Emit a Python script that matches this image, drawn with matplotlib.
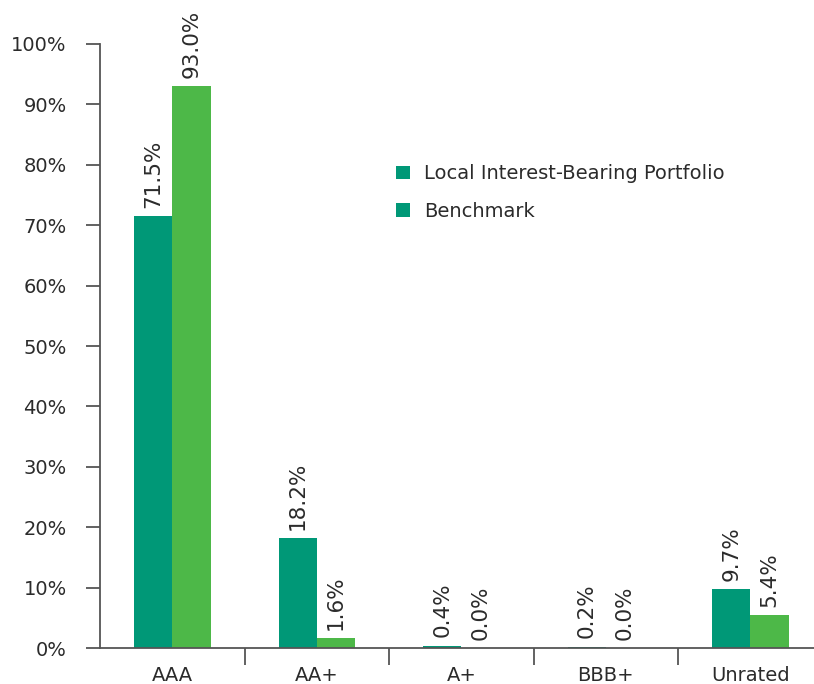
import numpy as np
import matplotlib.pyplot as plt
from matplotlib.patches import Patch
from matplotlib.ticker import FixedLocator

categories = ["AAA", "AA+", "A+", "BBB+", "Unrated"]
portfolio = [71.5, 18.2, 0.4, 0.2, 9.7]
benchmark = [93.0, 1.6, 0.0, 0.0, 5.4]
series_names = ["Local Interest-Bearing Portfolio", "Benchmark"]

teal = "#009877"
green = "#4db848"
axis_grey = "#555555"
text_col = "#2b2b2b"

plt.rcParams["font.family"] = ["DejaVu Sans"]

fig = plt.figure(figsize=(8.14, 6.84), dpi=100)
ax = fig.add_axes([0.1229, 0.0526, 0.8771, 0.8831])

x = np.arange(len(categories))
w = 0.265
b1 = ax.bar(x - w / 2, portfolio, w, color=teal)
b2 = ax.bar(x + w / 2, benchmark, w, color=green)

# value labels, rotated above each bar
for bars, vals in ((b1, portfolio), (b2, benchmark)):
    for rect, v in zip(bars, vals):
        ax.annotate(f"{v:.1f}%", (rect.get_x() + rect.get_width() / 2, v),
                    xytext=(0, 6), textcoords="offset points",
                    rotation=90, ha="center", va="bottom",
                    fontsize=15.5, color=text_col, annotation_clip=False)

ax.set_xlim(-0.5, 4.44)
ax.set_ylim(0, 100)
ax.set_yticks(range(0, 101, 10))
ax.set_yticklabels([f"{t}%" for t in range(0, 101, 10)])
ax.set_xticks(x)
ax.set_xticklabels(categories)
ax.xaxis.set_minor_locator(FixedLocator(x[:-1] + 0.5))

ax.tick_params(axis="y", length=10, width=1.3, color=axis_grey,
               labelsize=14, labelcolor=text_col, pad=14)
ax.tick_params(axis="x", which="major", length=0, labelsize=14,
               labelcolor=text_col, pad=13)
ax.tick_params(axis="x", which="minor", length=12, width=1.3, color=axis_grey)

for side in ("top", "right"):
    ax.spines[side].set_visible(False)
for side in ("left", "bottom"):
    ax.spines[side].set_color(axis_grey)
    ax.spines[side].set_linewidth(1.3)

handles = [Patch(facecolor=teal), Patch(facecolor=teal)]
ax.legend(handles, series_names, loc="upper left", bbox_to_anchor=(0.39, 0.83),
          frameon=False, fontsize=14, handlelength=0.7, handleheight=0.7,
          handletextpad=0.75, labelspacing=0.95, labelcolor=text_col)

fig.savefig("out.png", dpi=100)
